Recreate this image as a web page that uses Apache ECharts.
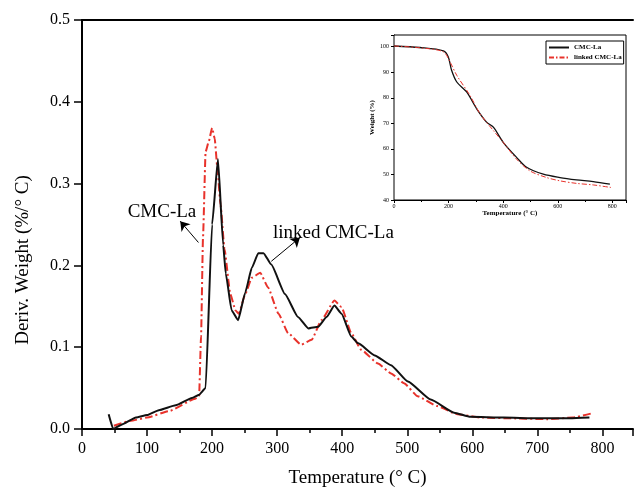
<!DOCTYPE html>
<html>
<head>
<meta charset="utf-8">
<script src="https://cdn.jsdelivr.net/npm/echarts@6/dist/echarts.min.js"></script>
<style>
  html, body { margin: 0; padding: 0; background: #fff; }
  #chart { width: 636px; height: 493px; }
</style>
</head>
<body>
<div id="chart"></div>
<script>
// DTG curves (main plot)
const cmcLaTemp = [41, 48, 60, 83, 100, 118, 144, 169, 180, 190, 200, 209, 217, 221, 230, 240, 251, 261, 271, 279, 291, 312, 332, 348, 363, 376, 388, 399, 414, 424, 450, 475, 501, 536, 572, 597, 648, 699, 750, 780]
const cmcLaDeriv = [0.018, 0.0, 0.005, 0.014, 0.017, 0.023, 0.029, 0.038, 0.042, 0.050, 0.250, 0.330, 0.225, 0.190, 0.145, 0.133, 0.167, 0.197, 0.215, 0.215, 0.201, 0.165, 0.137, 0.123, 0.125, 0.137, 0.151, 0.141, 0.113, 0.105, 0.090, 0.078, 0.058, 0.036, 0.020, 0.015, 0.014, 0.013, 0.013, 0.014]

const linkedTemp = [49, 75, 100, 134, 174, 180, 183, 186, 190, 195, 200, 204, 208, 213, 219, 228, 236, 241, 251, 261, 274, 286, 302, 317, 337, 353, 368, 388, 399, 414, 429, 455, 475, 495, 516, 546, 577, 613, 664, 715, 755, 783]
const linkedDeriv = [0.004, 0.010, 0.014, 0.022, 0.037, 0.040, 0.113, 0.234, 0.339, 0.352, 0.368, 0.355, 0.320, 0.274, 0.220, 0.165, 0.145, 0.141, 0.165, 0.185, 0.191, 0.173, 0.141, 0.117, 0.103, 0.109, 0.133, 0.157, 0.149, 0.117, 0.097, 0.080, 0.068, 0.056, 0.040, 0.028, 0.018, 0.014, 0.013, 0.012, 0.014, 0.019]

// TG curves (inset)
const insetCmcTemp = [0, 95, 181, 199, 211, 230, 266, 303, 339, 364, 400, 449, 486, 547, 608, 669, 730, 791]
const insetCmcWeight = [100.3, 99.7, 98.4, 96, 90.8, 86.2, 82.3, 75.7, 70.5, 68.5, 62.6, 56.7, 52.8, 50.1, 48.8, 47.9, 47.2, 46.2]
const insetLinkedTemp = [0, 95, 181, 205, 230, 278, 315, 364, 400, 449, 498, 559, 608, 669, 730, 795]
const insetLinkedWeight = [100.3, 99.6, 98, 94.1, 88.8, 81, 73.8, 67.2, 62.6, 56, 51.4, 48.8, 47.5, 46.5, 45.9, 44.9]

const mainXMax = 847
const mainYTicks = [0, 0.1, 0.2, 0.3, 0.4, 0.5]
const insetXMax = 850
const insetYRange = [40, 104.6]

const serif = "'Liberation Serif', 'DejaVu Serif', serif"
const red = '#e8322b'

const zip = (xs, ys) => xs.map((x, i) => [x, ys[i]])

const chart = echarts.init(document.getElementById('chart'))

const option = {
  animation: false,
  backgroundColor: '#fff',
  grid: [
    { left: 82, top: 20, right: 0, bottom: 60 },
    {
      left: 394, top: 35, right: 10, bottom: 293,
      show: true, borderColor: '#000', borderWidth: 1, backgroundColor: '#fff',
      z: 5,
    },
  ],
  legend: {
    data: ['CMC-La', 'linked CMC-La'],
    orient: 'vertical',
    left: 546,
    top: 41,
    itemWidth: 20,
    itemHeight: 8,
    itemGap: 3,
    padding: [3, 2, 3, 2],
    borderColor: '#000',
    borderWidth: 1,
    backgroundColor: '#fff',
    selectedMode: false,
    // line-only keys, hide the default circle
    itemStyle: { opacity: 0 },
    textStyle: { fontFamily: serif, fontSize: 7, fontWeight: 'bold', color: '#000' },
    z: 10,
  },
  xAxis: [
    {
      gridIndex: 0,
      type: 'value',
      min: 0,
      max: mainXMax,
      interval: 100,
      name: 'Temperature (° C)',
      nameLocation: 'middle',
      nameGap: 40,
      nameTextStyle: { fontFamily: serif, fontSize: 19, color: '#000' },
      axisLine: { lineStyle: { color: '#000', width: 2 } },
      axisTick: { length: 7, lineStyle: { color: '#000', width: 1.5 } },
      minorTick: { show: true, splitNumber: 2, length: 4, lineStyle: { color: '#000', width: 1.5 } },
      axisLabel: {
        fontFamily: serif, fontSize: 16, color: '#000', margin: 12,
        formatter: (v) => (v <= 800 && v % 100 === 0 ? String(v) : ''),
      },
      splitLine: { show: false },
    },
    {
      gridIndex: 0,
      type: 'value',
      position: 'top',
      min: 0,
      max: mainXMax,
      axisLine: { lineStyle: { color: '#000', width: 2 } },
      axisTick: { show: false },
      axisLabel: { show: false },
      splitLine: { show: false },
    },
    {
      gridIndex: 1,
      type: 'value',
      min: 0,
      max: insetXMax,
      interval: 200,
      name: 'Temperature (° C)',
      nameLocation: 'middle',
      nameGap: 9,
      nameTextStyle: { fontFamily: serif, fontSize: 7, fontWeight: 'bold', color: '#000' },
      axisLine: { lineStyle: { color: '#000', width: 1 } },
      axisTick: { length: 3, lineStyle: { color: '#000', width: 1 } },
      minorTick: { show: true, splitNumber: 2, length: 2, lineStyle: { color: '#000', width: 1 } },
      axisLabel: {
        fontFamily: serif, fontSize: 6, color: '#000', margin: 3,
        formatter: (v) => (v % 200 === 0 && v <= 800 ? String(v) : ''),
      },
      splitLine: { show: false },
    },
  ],
  yAxis: [
    {
      gridIndex: 0,
      type: 'value',
      min: mainYTicks[0],
      max: mainYTicks[mainYTicks.length - 1],
      interval: 0.1,
      axisLine: { show: true, lineStyle: { color: '#000', width: 2 } },
      axisTick: { show: true, length: 8, lineStyle: { color: '#000', width: 1.5 } },
      axisLabel: {
        fontFamily: serif, fontSize: 16, color: '#000', margin: 12,
        formatter: (v) => v.toFixed(1),
      },
      splitLine: { show: false },
    },
    {
      gridIndex: 1,
      type: 'value',
      min: insetYRange[0],
      max: insetYRange[1],
      interval: 10,
      name: 'Weight (%)',
      nameLocation: 'middle',
      nameGap: 18,
      nameTextStyle: { fontFamily: serif, fontSize: 7, fontWeight: 'bold', color: '#000' },
      axisLine: { show: true, lineStyle: { color: '#000', width: 1 } },
      axisTick: { show: true, length: 3, lineStyle: { color: '#000', width: 1 } },
      axisLabel: {
        fontFamily: serif, fontSize: 6, color: '#000', margin: 5,
        formatter: (v) => (v % 10 === 0 ? String(v) : ''),
      },
      splitLine: { show: false },
    },
  ],
  series: [
    {
      name: 'linked CMC-La (DTG)',
      type: 'line',
      xAxisIndex: 0,
      yAxisIndex: 0,
      symbol: 'none',
      smooth: 0.15,
      smoothMonotone: 'x',
      lineStyle: { color: red, width: 2, type: [8, 3, 2, 3] },
      data: zip(linkedTemp, linkedDeriv),
      markLine: {
        silent: true,
        symbol: ['none', 'arrow'],
        symbolSize: 9,
        label: { show: false },
        lineStyle: { color: '#000', width: 1, type: 'solid' },
        data: [[{ coord: [179, 0.228] }, { coord: [151, 0.254] }]],
      },
      z: 2,
    },
    {
      name: 'CMC-La (DTG)',
      type: 'line',
      xAxisIndex: 0,
      yAxisIndex: 0,
      symbol: 'none',
      smooth: 0.15,
      smoothMonotone: 'x',
      lineStyle: { color: '#111', width: 2 },
      data: zip(cmcLaTemp, cmcLaDeriv),
      markLine: {
        silent: true,
        symbol: ['none', 'arrow'],
        symbolSize: 9,
        label: { show: false },
        lineStyle: { color: '#000', width: 1, type: 'solid' },
        data: [[{ coord: [291, 0.205] }, { coord: [335, 0.234] }]],
      },
      z: 3,
    },
    {
      name: 'CMC-La',
      type: 'line',
      xAxisIndex: 2,
      yAxisIndex: 1,
      symbol: 'none',
      smooth: 0.3,
      itemStyle: { color: '#111' },
      lineStyle: { color: '#111', width: 1.3 },
      data: zip(insetCmcTemp, insetCmcWeight),
      z: 6,
    },
    {
      name: 'linked CMC-La',
      type: 'line',
      xAxisIndex: 2,
      yAxisIndex: 1,
      symbol: 'none',
      smooth: 0.3,
      itemStyle: { color: red },
      lineStyle: { color: red, width: 1, type: [5, 2, 1.5, 2] },
      data: zip(insetLinkedTemp, insetLinkedWeight),
      z: 6,
    },
  ],
  graphic: [
    {
      type: 'text',
      x: 23,
      y: 260,
      rotation: Math.PI / 2,
      style: {
        text: 'Deriv. Weight (%/° C)',
        font: '19px ' + serif,
        fill: '#000',
        textAlign: 'center',
        textVerticalAlign: 'middle',
      },
    },
    {
      type: 'text',
      x: 162,
      y: 212,
      style: {
        text: 'CMC-La',
        font: '19px ' + serif,
        fill: '#000',
        textAlign: 'center',
        textVerticalAlign: 'middle',
      },
    },
    {
      type: 'text',
      x: 273,
      y: 233,
      style: {
        text: 'linked CMC-La',
        font: '19px ' + serif,
        fill: '#000',
        textAlign: 'left',
        textVerticalAlign: 'middle',
      },
    },
  ],
}

chart.setOption(option)
</script>
</body>
</html>
